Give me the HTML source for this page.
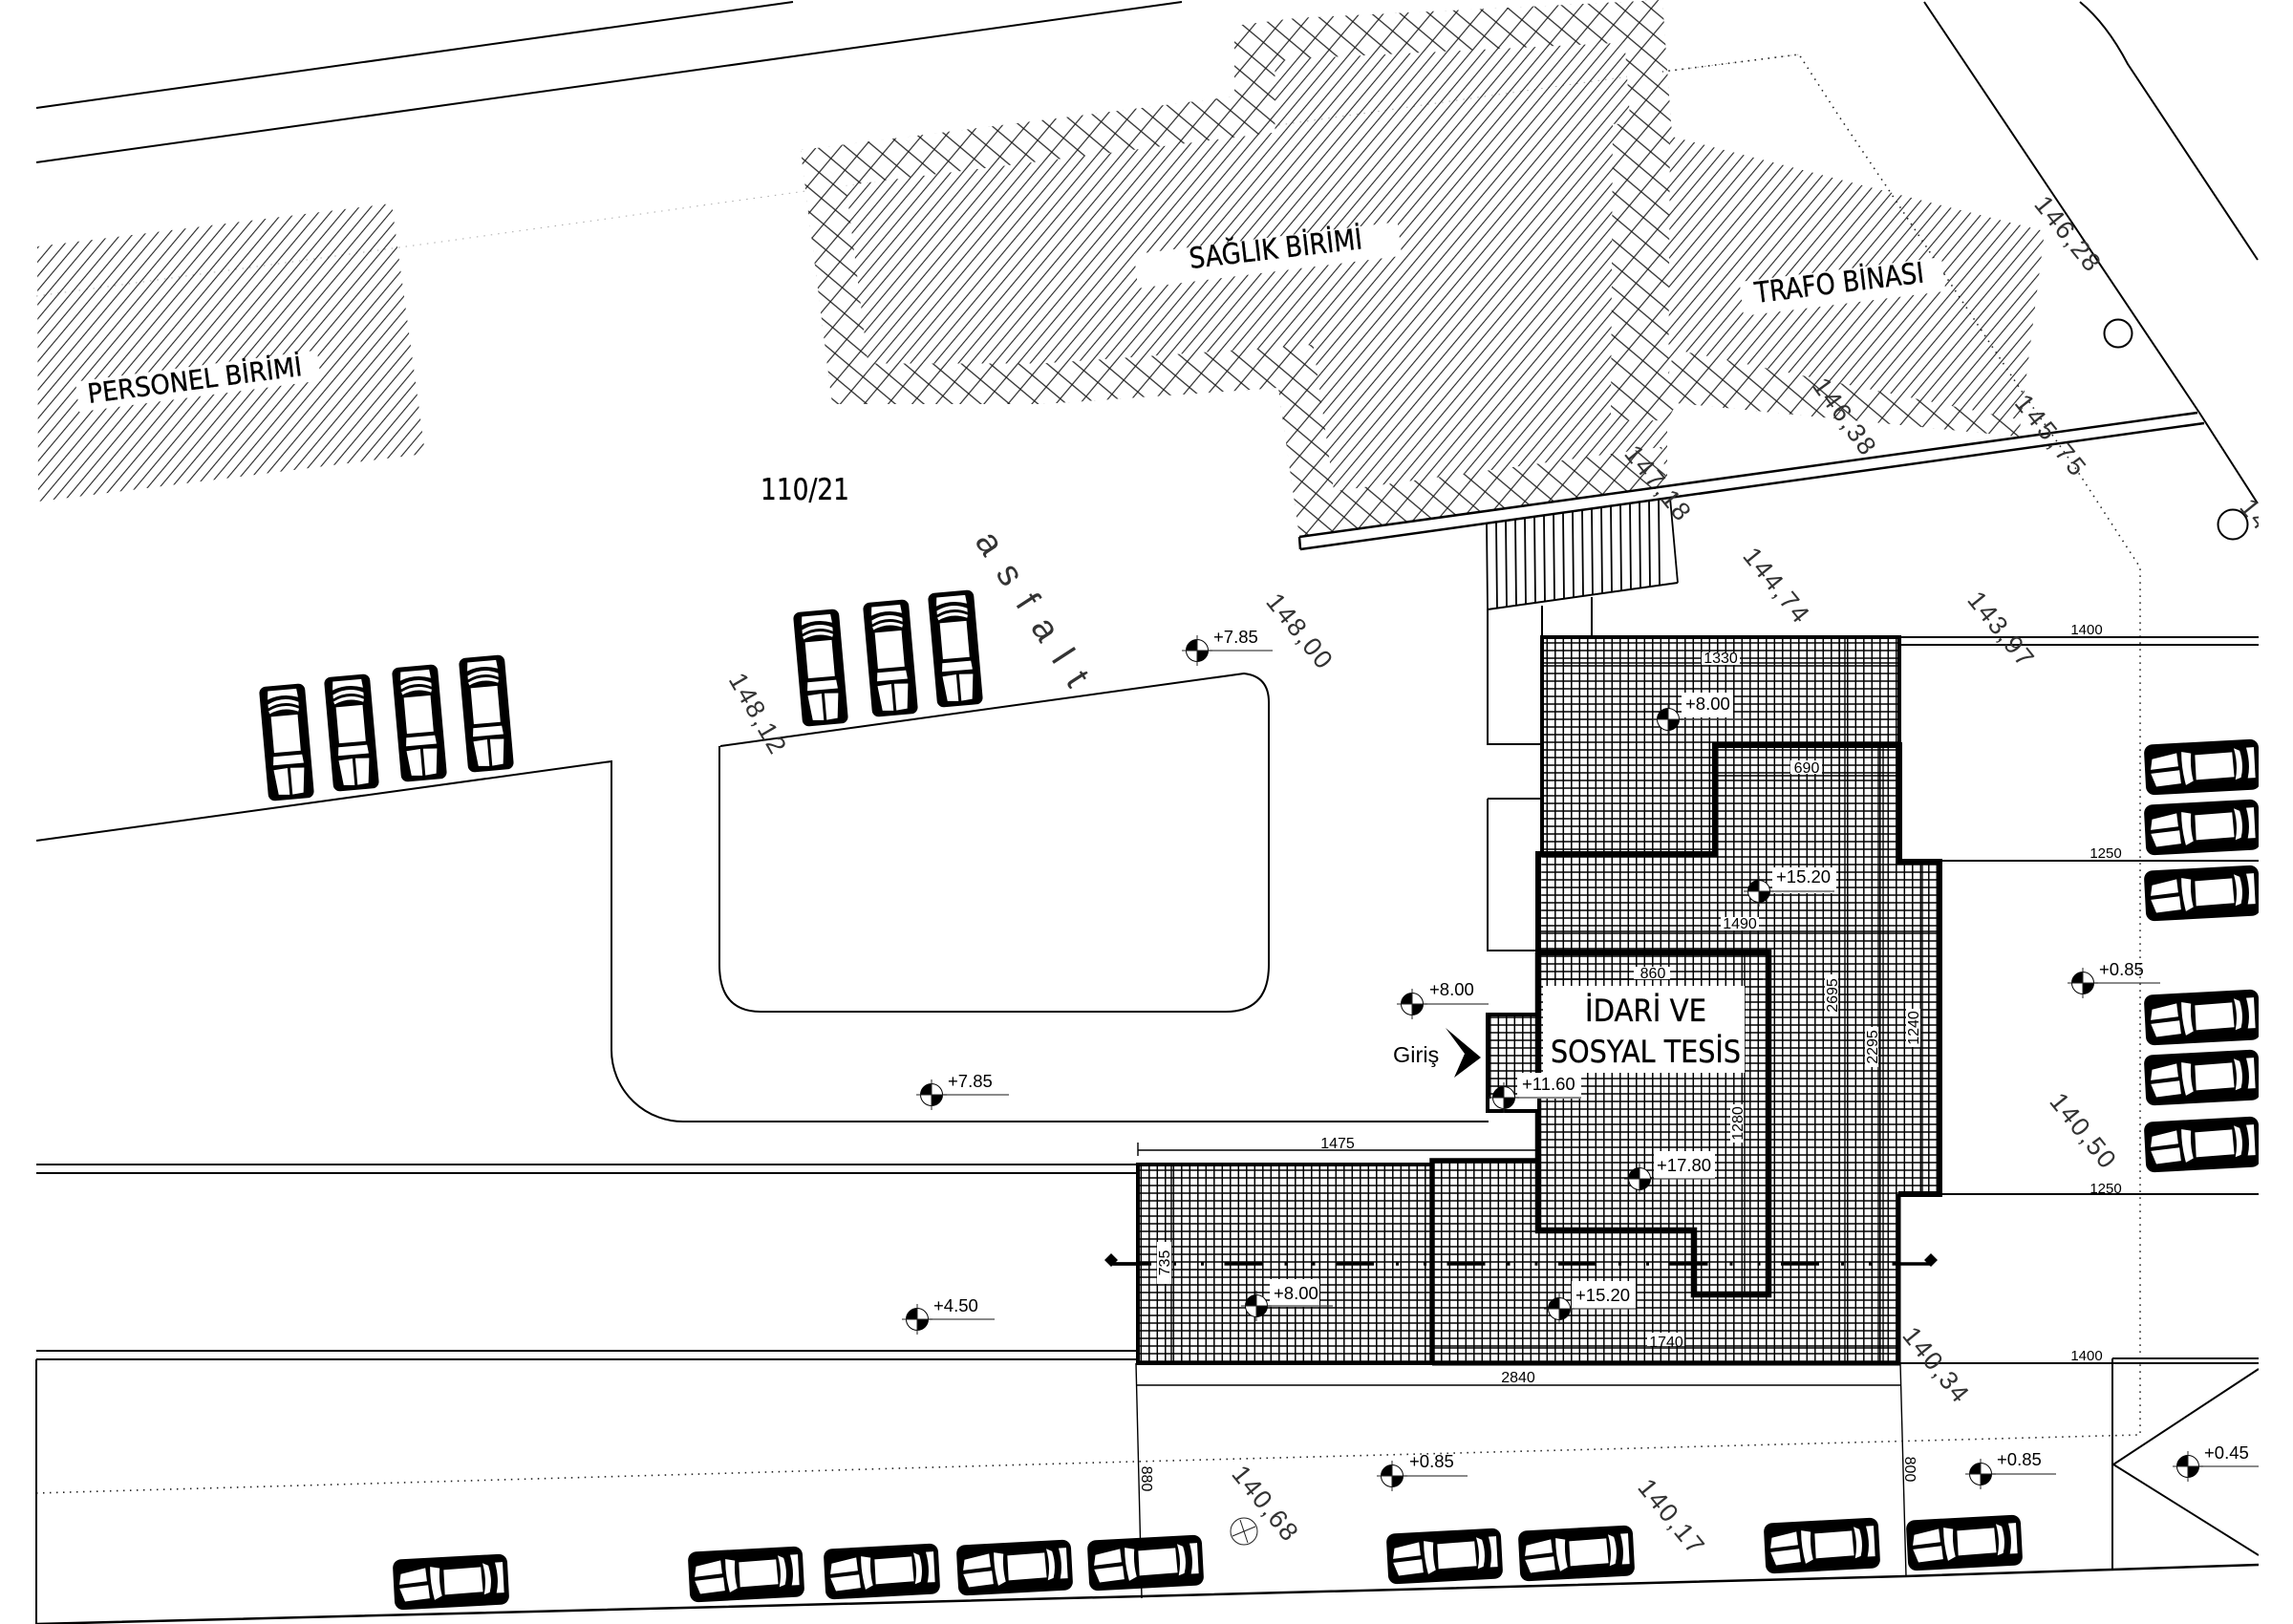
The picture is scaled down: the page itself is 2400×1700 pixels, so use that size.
<!DOCTYPE html>
<html><head><meta charset="utf-8"><style>
html,body{margin:0;padding:0;background:#fff}
svg{display:block}
text{font-family:"Liberation Sans",sans-serif;fill:#000}
.d{font-size:16px;text-anchor:middle}
.e{font-size:18.5px}
.lv{font-size:27px;text-anchor:middle;fill:#333}
.lb{font-family:"DejaVu Sans","Liberation Sans",sans-serif;stroke:#000;stroke-width:.35}
</style></head><body>
<svg width="2400" height="1700" viewBox="0 0 2400 1700" xmlns="http://www.w3.org/2000/svg">
<defs>
<pattern id="h1" patternUnits="userSpaceOnUse" width="9.6" height="9.6" patternTransform="rotate(-50)"><line x1="0" x2="9.6" y1="4.8" y2="4.8" stroke="#222" stroke-width="1.1"/></pattern>
<pattern id="h3" patternUnits="userSpaceOnUse" width="19.2" height="19.2" patternTransform="rotate(40)"><rect width="19.2" height="19.2" fill="#fff"/><path d="M0 9.6H19.2M4.8 0V19.2" stroke="#222" stroke-width="1.15" fill="none"/></pattern>
<pattern id="g" patternUnits="userSpaceOnUse" x="1564.05" y="1061" width="8.5" height="8"><path d="M0 4H8.5M4.25 0V8" stroke="#000" stroke-width="1.5" fill="none"/></pattern>
<clipPath id="page"><rect x="0" y="0" width="2364" height="1700"/></clipPath>
<clipPath id="sag"><path d="M838 157L1292 101L1292 27L1356 19L1740 0L1750 143L1973 200L2140 242L2113 457L1755 422L1745 440L1745 510L1360 562L1338 406L1091 423L871 423Z"/></clipPath>
<g id="car">
<rect x="-60" y="-26.5" width="120" height="53" rx="9" fill="#000"/>
<path d="M-52 -11L-26 -16L-25 -2L-54 0ZM-54 4L-24 2L-23 16L-49 18ZM-21 -17L-11 -15Q-13 0 -10 14L-18 18Q-22 0 -21 -17ZM-7 -13L32 -14L33 12L-7 13ZM34 -18L40 -15Q44 0 40 13L34 15Q38 0 34 -18ZM47 -18L55 -18L55 14L47 14Q51 0 47 -18Z" fill="#fff"/>
</g>
<g id="carv">
<rect x="-60" y="-24" width="120" height="48" rx="7" fill="#000"/>
<path d="M-54 -13L-28 -16L-27 -1.5L-55 -1.5ZM-55 1.5L-27 1.5L-28 16L-54 13ZM-23 -16L-14 -15L-14 15L-23 16ZM-10 -14L28 -14L28 14L-10 14ZM31 -15Q38 0 31 15L34 16Q42 0 34 -16ZM37 -16Q45 0 37 16L41 16Q49 0 41 -16ZM46 -16L55 -15L55 15L46 16Q52 0 46 -16Z" fill="#fff"/>
</g>
<g id="m">
<circle r="11.5" fill="#fff" stroke="#000" stroke-width="1"/>
<path d="M0 0V-11.5A11.5 11.5 0 0 0 -11.5 0ZM0 0V11.5A11.5 11.5 0 0 0 11.5 0Z" fill="#000"/>
<path d="M-16 0H16M0 -16V16" stroke="#222" stroke-width="1"/>
</g>
</defs>
<rect width="2400" height="1700" fill="#fff"/>
<g clip-path="url(#page)">
<!-- faint dotted -->
<path d="M38 310L470 252L1740 75L1883 57" fill="none" stroke="#aaa" stroke-width="1" stroke-dasharray="1.5 6"/>

<!-- hatched buildings -->
<path d="M39 258L410 213L445 475L40 525Z" fill="url(#h1)"/>
<path d="M838 157L1292 101L1292 27L1356 19L1740 0L1750 143L1973 200L2140 242L2113 457L1755 422L1745 440L1745 510L1360 562L1338 406L1091 423L871 423Z" fill="url(#h1)"/>
<g clip-path="url(#sag)" fill="none" stroke="url(#h3)">
<path d="M1750 143L1740 0L1356 19L1292 27L1292 101L838 157L871 423L1091 423L1338 406L1360 562L1745 510" stroke-width="85"/>
<path d="M1718 130L1716 440" stroke-width="60"/>
<path d="M1745 400L2113 475" stroke-width="70"/>
</g>

<!-- dotted -->
<path d="M38 1563L1150 1531L2050 1507L2240 1502L2240 594L2173 491L2115 408L1973 193L1925 122L1883 57L1740 75" fill="none" stroke="#222" stroke-width="1.6" stroke-dasharray="1.5 5.5"/>

<!-- label bands -->
<rect x="80" y="383" width="255" height="32" transform="rotate(-7.4 207 399)" fill="#fff"/>
<rect x="1188" y="249" width="278" height="36" transform="rotate(-7 1327 267)" fill="#fff"/>
<rect x="1822" y="282" width="213" height="36" transform="rotate(-7 1928 300)" fill="#fff"/>
<text class="lb" font-size="28" transform="translate(93 422) rotate(-7.4)" textLength="226" lengthAdjust="spacingAndGlyphs">PERSONEL BİRİMİ</text>
<text class="lb" font-size="30" transform="translate(1246 281) rotate(-6.6)" textLength="182" lengthAdjust="spacingAndGlyphs">SAĞLIK BİRİMİ</text>
<text class="lb" font-size="30" transform="translate(1838 317) rotate(-7)" textLength="178" lengthAdjust="spacingAndGlyphs">TRAFO BİNASI</text>
<text class="lb" x="796" y="523" font-size="31" textLength="93" lengthAdjust="spacingAndGlyphs">110/21</text>

<g fill="none" stroke="#000" stroke-width="2">
<path d="M38 113L830 2M38 170L1237 2"/>
<path d="M38 880L640 797V1099A75 75 0 0 0 718 1174H1558"/>
<path d="M754 781L1302 705Q1328 708 1328 735V1010Q1328 1059 1283 1059H796Q753 1059 753 1010V781"/>
<path d="M1360 562L2300 432M1361 575L2307 443M1360 562L1361 575" stroke-width="2.5"/>
<path d="M38 1219H1191M38 1228H1191M38 1414H1191M38 1423H1191M38 1423V1700"/>
<path d="M38 1700L1196 1671L1994 1650L2211 1643L2364 1638" stroke-width="2.5"/>
<path d="M1988 667H2364M1988 675H2364M2031 901H2364M2031 1250H2364M1987 1427H2364M2211 1422H2364M2211 1422V1643M2364 1433L2212 1533L2364 1628"/>
<path d="M1557 638V779H1613M1557 836H1613M1557 836V995H1610M1614 634V667M1666 625V667M1557 638L1756 610"/>
</g>
<!-- right diagonals -->
<path d="M2014 2L2302 432L2363 527" fill="none" stroke="#000" stroke-width="2"/>
<path d="M2177 2Q2205 25 2227 67L2363 272" fill="none" stroke="#000" stroke-width="2"/>
<circle cx="2217" cy="349" r="14.5" fill="#fff" stroke="#000" stroke-width="2"/>
<circle cx="2337" cy="549" r="15.5" fill="#fff" stroke="#000" stroke-width="2"/>

<!-- stairs -->
<g stroke="#000" stroke-width="1.8">
<path d="M1556 548L1557 638M1566 547L1567 637M1576 545L1577 635M1586 544L1587 634M1596 543L1597 633M1606 541L1607 631M1616 540L1617 630M1626 538L1627 628M1636 537L1637 627M1646 535L1647 625M1656 534L1657 624M1666 533L1667 623M1676 531L1677 621M1686 530L1687 620M1696 528L1697 618M1706 527L1707 617M1716 525L1717 615M1726 524L1727 614M1736 522L1737 612M1748 521L1756 610"/>
</g>

<!-- building fill -->
<path d="M1614 667L1988 667L1988 902L2031 902L2031 1250L1987 1250L1987 1427L1191 1427L1191 1219L1499 1219L1499 1215L1609 1215L1609 1163L1557 1163L1557 1062L1610 1062L1610 997L1613 997Z" fill="#fff"/>
<path d="M1614 667L1988 667L1988 902L2031 902L2031 1250L1987 1250L1987 1427L1191 1427L1191 1219L1499 1219L1499 1215L1609 1215L1609 1163L1557 1163L1557 1062L1610 1062L1610 997L1613 997Z" fill="url(#g)"/>

<!-- dimension lines -->
<g fill="none" stroke="#000" stroke-width="1.4">
<path d="M1614 694H1988M1795 812H1988M1610 975H2030M1610 1025H1845M1499 1411H1987"/>
<path d="M1925 667V1427M1931 667V1427M1966 780V1427M1971 780V1427M2012 902V1250M1826 997V1355M1226 1219V1427"/>
<path d="M1191 1204H1609M1191 1196V1210M1189 1450H1989M1189 1427L1195 1673M1989 1427L1995 1650"/>
</g>

<!-- dash-dot -->
<path d="M1165 1323H1985" fill="none" stroke="#000" stroke-width="3.5" stroke-dasharray="40 23 3 26 3 21.5"/>
<path d="M1163 1323H1195M1985 1323H2020" stroke="#000" stroke-width="3.5"/>
<path d="M1163 1312L1170 1319L1163 1326L1156 1319ZM2021 1312L2028 1319L2021 1326L2014 1319Z" fill="#000"/>

<!-- thick walls -->
<g fill="none" stroke="#000" stroke-linejoin="miter">
<path d="M1610 997V894H1795V780H1988V902H2030V1250H1987" stroke-width="6"/>
<path d="M1610 997V1288H1773V1355H1851V997H1607" stroke-width="6.5"/>
<path d="M1499 1427V1215H1609" stroke-width="5.5"/>
<path d="M1499 1427H1987V1250" stroke-width="5"/>
<path d="M1499 1219H1191V1427H1499" stroke-width="4"/>
<path d="M1614 894V667H1988V780" stroke-width="4"/>
<path d="M1610 1062H1557V1163H1610" stroke-width="4"/>
</g>

<!-- white boxes -->
<g fill="#fff">
<rect x="1615" y="1032" width="211" height="91"/>
<rect x="1781" y="683" width="40" height="13"/>
<rect x="1874" y="796" width="33" height="14"/>
<rect x="1801" y="960" width="40" height="14"/>
<rect x="1710" y="1012" width="38" height="13"/>
<rect x="1760" y="725" width="54" height="26"/>
<rect x="1855" y="908" width="67" height="27"/>
<rect x="1731" y="1205" width="64" height="29"/>
<rect x="1588" y="1123" width="67" height="27"/>
<rect x="1329" y="1339" width="52" height="29"/>
<rect x="1645" y="1341" width="67" height="29"/>
<rect x="1724" y="1395" width="39" height="14"/>
<rect x="1559" y="1150" width="50" height="11"/>
<rect x="1211" y="1300" width="15" height="44"/>
<rect x="1910" y="1020" width="14" height="44"/>
<rect x="1952" y="1075" width="14" height="42"/>
<rect x="1995" y="1056" width="15" height="40"/>
<rect x="1811" y="1156" width="14" height="40"/>
</g>

<text class="lb" x="1659" y="1069" font-size="32" textLength="127" lengthAdjust="spacingAndGlyphs">İDARİ VE</text>
<text class="lb" x="1623" y="1112" font-size="32" textLength="199" lengthAdjust="spacingAndGlyphs">SOSYAL TESİS</text>

<!-- dimension text -->
<text class="d" x="1801" y="694">1330</text>
<text class="d" x="1891" y="809">690</text>
<text class="d" x="1821" y="972">1490</text>
<text class="d" x="1730" y="1024">860</text>
<text class="d" x="1744" y="1410">1740</text>
<text class="d" x="1400" y="1202">1475</text>
<text class="d" x="1589" y="1447">2840</text>
<text class="d" x="2184" y="664" style="font-size:15px">1400</text>
<text class="d" x="2204" y="898" style="font-size:15px">1250</text>
<text class="d" x="2204" y="1249" style="font-size:15px">1250</text>
<text class="d" x="2184" y="1424" style="font-size:15px">1400</text>
<text class="d" transform="translate(1224 1322) rotate(-90)">735</text>
<text class="d" transform="translate(1824 1176) rotate(-90)">1280</text>
<text class="d" transform="translate(1923 1042) rotate(-90)">2695</text>
<text class="d" transform="translate(1965 1096) rotate(-90)">2295</text>
<text class="d" transform="translate(2008 1076) rotate(-90)">1240</text>
<text class="d" transform="translate(1195 1548) rotate(90)">880</text>
<text class="d" transform="translate(1994 1538) rotate(90)">800</text>

<!-- level texts rotated -->
<text class="lv" transform="translate(2157 250) rotate(51)" textLength="92">146,28</text>
<text class="lv" transform="translate(1923 441) rotate(54)" textLength="92">146,38</text>
<text class="lv" transform="translate(2139 461) rotate(51)" textLength="100">145,75</text>
<text class="lv" transform="translate(1728 511) rotate(51)" textLength="92">147,18</text>
<text class="lv" transform="translate(1852 618) rotate(51)" textLength="92">144,74</text>
<text class="lv" transform="translate(2087 664) rotate(51)" textLength="92">143,97</text>
<text class="lv" transform="translate(785 751) rotate(60)" textLength="92">148,12</text>
<text class="lv" transform="translate(1353 666) rotate(51)" textLength="92">148,00</text>
<text class="lv" transform="translate(2173 1189) rotate(51)" textLength="92">140,50</text>
<text class="lv" transform="translate(2019 1434) rotate(51)" textLength="92">140,34</text>
<text class="lv" transform="translate(1317 1579) rotate(51)" textLength="92">140,68</text>
<text class="lv" transform="translate(1742 1593) rotate(51)" textLength="92">140,17</text>
<text class="lv" transform="translate(2372 567) rotate(51)" textLength="92">144,25</text>
<text class="lv" style="font-size:38px" transform="translate(1070 644) rotate(57)" textLength="185">asfalt</text>
<g transform="translate(1302 1603)" fill="none" stroke="#222" stroke-width="1"><circle r="14"/><path d="M-12 5L12 -5M-4 -12L4 12"/></g>

<!-- elevation text + leaders -->
<g fill="none" stroke="#444" stroke-width="1.2">
<path d="M1478 1051H1558M1253 681H1332M975 1146H1056M960 1381H1041M2180 1029H2261M1457 1545H1536M2073 1543H2152M2290 1535H2364M1746 753H1825M1841 933H1920M1716 1234H1795M1574 1149H1655M1315 1367H1395M1632 1370H1712"/>
</g>
<use href="#m" x="1478" y="1051"/><text class="e" x="1496" y="1042">+8.00</text>
<use href="#m" x="1253" y="681"/><text class="e" x="1270" y="673">+7.85</text>
<use href="#m" x="975" y="1146"/><text class="e" x="992" y="1138">+7.85</text>
<use href="#m" x="960" y="1381"/><text class="e" x="977" y="1373">+4.50</text>
<use href="#m" x="2180" y="1029"/><text class="e" x="2197" y="1021">+0.85</text>
<use href="#m" x="1457" y="1545"/><text class="e" x="1475" y="1536">+0.85</text>
<use href="#m" x="2073" y="1543"/><text class="e" x="2090" y="1534">+0.85</text>
<use href="#m" x="2290" y="1535"/><text class="e" x="2307" y="1527">+0.45</text>
<use href="#m" x="1746" y="753"/><text class="e" x="1764" y="743">+8.00</text>
<use href="#m" x="1841" y="933"/><text class="e" x="1859" y="924">+15.20</text>
<use href="#m" x="1716" y="1234"/><text class="e" x="1734" y="1226">+17.80</text>
<use href="#m" x="1574" y="1149"/><text class="e" x="1593" y="1141">+11.60</text>
<use href="#m" x="1315" y="1367"/><text class="e" x="1333" y="1360">+8.00</text>
<use href="#m" x="1632" y="1370"/><text class="e" x="1649" y="1362">+15.20</text>

<!-- Giriş -->
<text x="1458" y="1112" font-size="23.5">Giriş</text>
<path d="M1513 1076L1550 1107L1522 1128L1533 1103Z" fill="#000"/>

<!-- cars vertical -->
<use href="#carv" transform="translate(300 777) rotate(-95)"/>
<use href="#carv" transform="translate(368 767) rotate(-95)"/>
<use href="#carv" transform="translate(439 757) rotate(-95)"/>
<use href="#carv" transform="translate(509 747) rotate(-95)"/>
<use href="#carv" transform="translate(859 699) rotate(-95)"/>
<use href="#carv" transform="translate(932 689) rotate(-95)"/>
<use href="#carv" transform="translate(1000 679) rotate(-95)"/>
<!-- cars right -->
<use href="#car" transform="translate(2305 803) rotate(-3)"/>
<use href="#car" transform="translate(2305 866) rotate(-3)"/>
<use href="#car" transform="translate(2305 935) rotate(-3)"/>
<use href="#car" transform="translate(2305 1065) rotate(-3)"/>
<use href="#car" transform="translate(2305 1128) rotate(-3)"/>
<use href="#car" transform="translate(2305 1198) rotate(-3)"/>
<!-- cars bottom -->
<use href="#car" transform="translate(472 1656) rotate(-3)"/>
<use href="#car" transform="translate(781 1648) rotate(-3)"/>
<use href="#car" transform="translate(923 1645) rotate(-3)"/>
<use href="#car" transform="translate(1062 1641) rotate(-3)"/>
<use href="#car" transform="translate(1199 1636) rotate(-3)"/>
<use href="#car" transform="translate(1512 1629) rotate(-3)"/>
<use href="#car" transform="translate(1650 1626) rotate(-3)"/>
<use href="#car" transform="translate(1907 1618) rotate(-3)"/>
<use href="#car" transform="translate(2056 1615) rotate(-3)"/>
</g>
</svg>
</body></html>
